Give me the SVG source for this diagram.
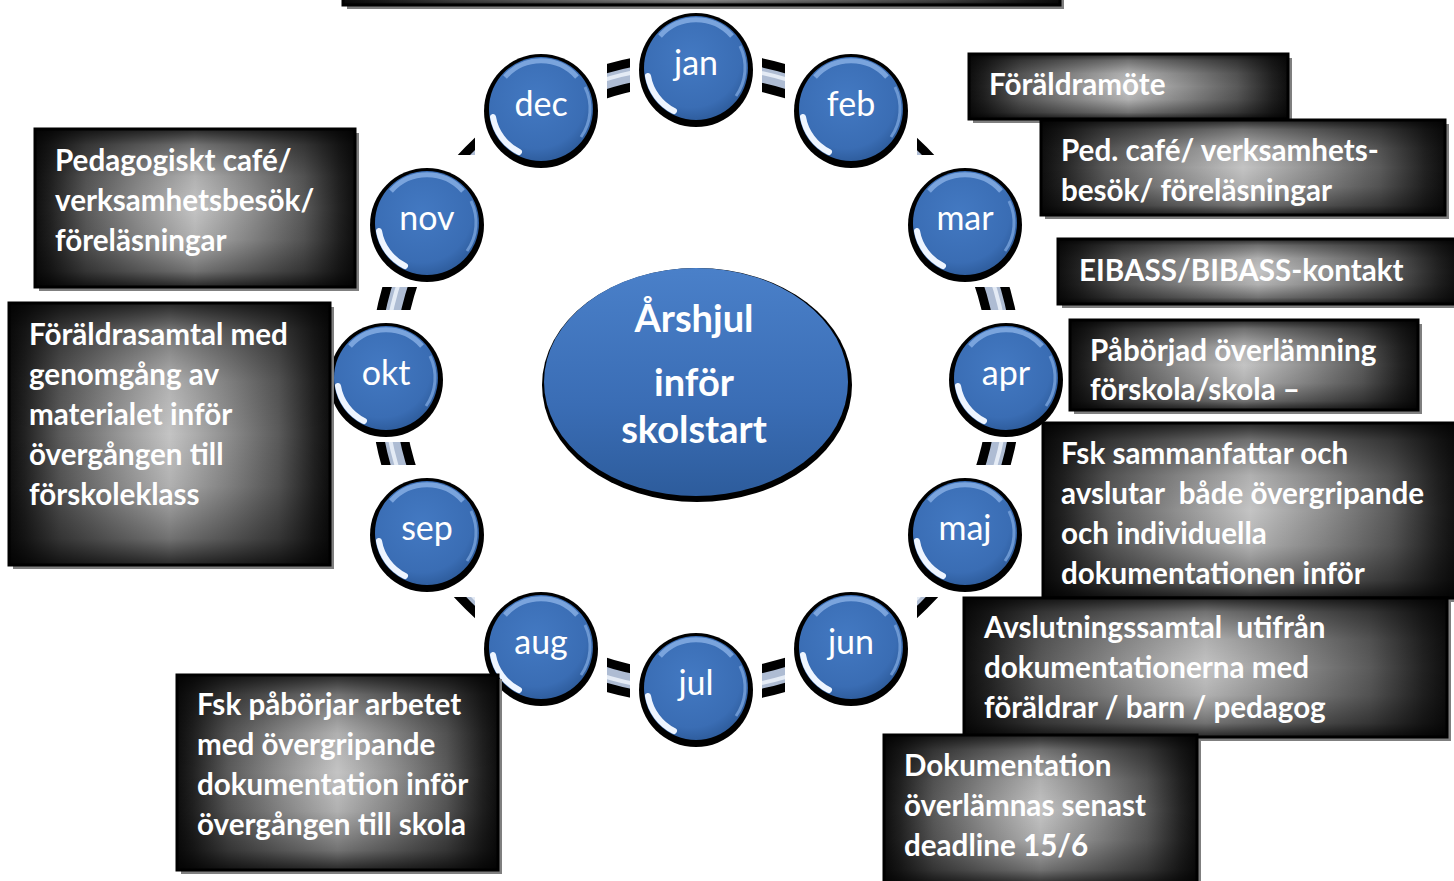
<svg xmlns="http://www.w3.org/2000/svg" xmlns:xlink="http://www.w3.org/1999/xlink" width="1454" height="881" viewBox="0 0 1454 881">
<defs>
  <style>
    .mt{font-family:Lato,"Liberation Sans",sans-serif;font-size:34px;fill:#fff;text-anchor:middle}
    .bt{font-family:Lato,"Liberation Sans",sans-serif;font-size:29.6px;font-weight:bold;fill:#fff}
    .ct{font-family:Lato,"Liberation Sans",sans-serif;font-size:38px;font-weight:bold;fill:#fff;text-anchor:middle}
    .shd{fill:#7f7f7f}
    .bx{fill:url(#hgrad)}
    .ov{fill:url(#vgrad);stroke:#000;stroke-width:3}
    .sq{fill:#fff}
  </style>
  <linearGradient id="hgrad" x1="0" y1="0" x2="1" y2="0">
    <stop offset="0" stop-color="#0e0e0e"/>
    <stop offset="0.05" stop-color="#222"/>
    <stop offset="0.16" stop-color="#5a5a5a"/>
    <stop offset="0.32" stop-color="#8e8e8e"/>
    <stop offset="0.5" stop-color="#c4c4c4"/>
    <stop offset="0.68" stop-color="#8e8e8e"/>
    <stop offset="0.84" stop-color="#5a5a5a"/>
    <stop offset="0.95" stop-color="#222"/>
    <stop offset="1" stop-color="#0e0e0e"/>
  </linearGradient>
  <linearGradient id="vgrad" x1="0" y1="0" x2="0" y2="1">
    <stop offset="0" stop-color="#000" stop-opacity="0.8"/>
    <stop offset="0.1" stop-color="#000" stop-opacity="0.42"/>
    <stop offset="0.3" stop-color="#000" stop-opacity="0.1"/>
    <stop offset="0.5" stop-color="#000" stop-opacity="0"/>
    <stop offset="0.7" stop-color="#000" stop-opacity="0.1"/>
    <stop offset="0.9" stop-color="#000" stop-opacity="0.42"/>
    <stop offset="1" stop-color="#000" stop-opacity="0.8"/>
  </linearGradient>
  <radialGradient id="blueBtn" cx="0.45" cy="0.4" r="0.6">
    <stop offset="0" stop-color="#4379c2"/>
    <stop offset="0.8" stop-color="#3a6db4"/>
    <stop offset="1" stop-color="#2f5e9f"/>
  </radialGradient>
  <linearGradient id="blueEll" x1="0" y1="0" x2="0" y2="1">
    <stop offset="0" stop-color="#4a80c9"/>
    <stop offset="0.6" stop-color="#3a6db5"/>
    <stop offset="1" stop-color="#2d5c9c"/>
  </linearGradient>
  <g id="btn">
    <circle r="57" cy="2" fill="#000"/>
    <circle r="52" fill="url(#blueBtn)"/>
    <path d="M -36 -32 A 48 48 0 0 1 36 -32" fill="none" stroke="#8fb6ea" stroke-width="5" opacity="0.75"/>
    <path d="M 44 -22 A 49 49 0 0 1 40 28" fill="none" stroke="#79a4dc" stroke-width="3" opacity="0.8"/>
    <path d="M -48 8 A 48 48 0 0 0 -22 43" fill="none" stroke="#eef5ff" stroke-width="6" stroke-linecap="round"/>
  </g>
</defs>

<rect width="1454" height="881" fill="#fff"/>

<g id="connectors">
  <circle cx="696" cy="378" r="310" fill="none" stroke="#000" stroke-width="33"/>
  <circle cx="696" cy="378" r="310" fill="none" stroke="#aebcd3" stroke-width="15"/>
  <circle cx="696" cy="378" r="312" fill="none" stroke="#e4ebf5" stroke-width="4"/>
</g>

<g id="center">
  <ellipse cx="697" cy="385" rx="155" ry="117" fill="#000"/>
  <ellipse cx="696" cy="382" rx="152" ry="114" fill="url(#blueEll)"/>
  <text class="ct" x="694" y="332">Årshjul</text>
  <text class="ct" x="694" y="396">inför</text>
  <text class="ct" x="694" y="443">skolstart</text>
</g>

<g id="month-jan" transform="translate(696,68)"><rect class="sq" x="-66" y="-68" width="132" height="132"/><use xlink:href="#btn"/><text class="mt" y="7">jan</text></g>
<g id="month-feb" transform="translate(851,109)"><rect class="sq" x="-66" y="-68" width="132" height="132"/><use xlink:href="#btn"/><text class="mt" y="7">feb</text></g>
<g id="month-mar" transform="translate(965,223)"><rect class="sq" x="-66" y="-68" width="132" height="132"/><use xlink:href="#btn"/><text class="mt" y="7">mar</text></g>
<g id="month-apr" transform="translate(1006,378)"><rect class="sq" x="-66" y="-68" width="132" height="132"/><use xlink:href="#btn"/><text class="mt" y="7">apr</text></g>
<g id="month-maj" transform="translate(965,533)"><rect class="sq" x="-66" y="-68" width="132" height="132"/><use xlink:href="#btn"/><text class="mt" y="7">maj</text></g>
<g id="month-jun" transform="translate(851,647)"><rect class="sq" x="-66" y="-68" width="132" height="132"/><use xlink:href="#btn"/><text class="mt" y="7">jun</text></g>
<g id="month-jul" transform="translate(696,688)"><rect class="sq" x="-66" y="-68" width="132" height="132"/><use xlink:href="#btn"/><text class="mt" y="7">jul</text></g>
<g id="month-aug" transform="translate(541,647)"><rect class="sq" x="-66" y="-68" width="132" height="132"/><use xlink:href="#btn"/><text class="mt" y="7">aug</text></g>
<g id="month-sep" transform="translate(427,533)"><rect class="sq" x="-66" y="-68" width="132" height="132"/><use xlink:href="#btn"/><text class="mt" y="7">sep</text></g>
<g id="month-okt" transform="translate(386,378)"><rect class="sq" x="-66" y="-68" width="132" height="132"/><use xlink:href="#btn"/><text class="mt" y="7">okt</text></g>
<g id="month-nov" transform="translate(427,223)"><rect class="sq" x="-66" y="-68" width="132" height="132"/><use xlink:href="#btn"/><text class="mt" y="7">nov</text></g>
<g id="month-dec" transform="translate(541,109)"><rect class="sq" x="-66" y="-68" width="132" height="132"/><use xlink:href="#btn"/><text class="mt" y="7">dec</text></g>

<g id="box-top">
  <rect class="shd" x="347" y="-20" width="717" height="29"/>
  <rect class="bx" x="343" y="-24" width="717" height="29"/>
  <rect class="ov" x="343" y="-24" width="717" height="29"/>
</g>

<g id="box-foraldramote">
  <rect class="shd" x="973" y="58" width="319" height="65"/>
  <rect class="bx" x="969" y="54" width="319" height="65"/>
  <rect class="ov" x="969" y="54" width="319" height="65"/>
  <text class="bt" x="989" y="95">Föräldramöte</text>
</g>

<g id="box-pedcafe-right">
  <rect class="shd" x="1045" y="124" width="404" height="95"/>
  <rect class="bx" x="1041" y="120" width="404" height="95"/>
  <rect class="ov" x="1041" y="120" width="404" height="95"/>
  <text class="bt" x="1061" y="161">Ped. café/ verksamhets-</text>
  <text class="bt" x="1061" y="201">besök/ föreläsningar</text>
</g>

<g id="box-eibass">
  <rect class="shd" x="1062" y="243" width="400" height="65"/>
  <rect class="bx" x="1058" y="239" width="400" height="65"/>
  <rect class="ov" x="1058" y="239" width="400" height="65"/>
  <text class="bt" x="1079" y="281">EIBASS/BIBASS-kontakt</text>
</g>

<g id="box-paborjad">
  <rect class="shd" x="1074" y="324" width="348" height="90"/>
  <rect class="bx" x="1070" y="320" width="348" height="90"/>
  <rect class="ov" x="1070" y="320" width="348" height="90"/>
  <text class="bt" x="1090" y="361">Påbörjad överlämning</text>
  <text class="bt" x="1090" y="400">förskola/skola –</text>
</g>

<g id="box-fsk-sammanfattar">
  <rect class="shd" x="1047" y="427" width="415" height="175"/>
  <rect class="bx" x="1043" y="423" width="415" height="175"/>
  <rect class="ov" x="1043" y="423" width="415" height="175"/>
  <text class="bt" x="1061" y="464">Fsk sammanfattar och</text>
  <text class="bt" x="1061" y="504" xml:space="preserve">avslutar  både övergripande</text>
  <text class="bt" x="1061" y="544">och individuella</text>
  <text class="bt" x="1061" y="584">dokumentationen inför</text>
</g>

<g id="box-avslutningssamtal">
  <rect class="shd" x="968" y="602" width="483" height="139"/>
  <rect class="bx" x="964" y="598" width="483" height="139"/>
  <rect class="ov" x="964" y="598" width="483" height="139"/>
  <text class="bt" x="984" y="638" xml:space="preserve">Avslutningssamtal  utifrån</text>
  <text class="bt" x="984" y="678">dokumentationerna med</text>
  <text class="bt" x="984" y="718">föräldrar / barn / pedagog</text>
</g>

<g id="box-dokumentation">
  <rect class="shd" x="888" y="739" width="313" height="150"/>
  <rect class="bx" x="884" y="735" width="313" height="150"/>
  <rect class="ov" x="884" y="735" width="313" height="150"/>
  <text class="bt" x="904" y="776">Dokumentation</text>
  <text class="bt" x="904" y="816">överlämnas senast</text>
  <text class="bt" x="904" y="856">deadline 15/6</text>
</g>

<g id="box-pedcafe-left">
  <rect class="shd" x="39" y="133" width="320" height="158"/>
  <rect class="bx" x="35" y="129" width="320" height="158"/>
  <rect class="ov" x="35" y="129" width="320" height="158"/>
  <text class="bt" x="55" y="171">Pedagogiskt café/</text>
  <text class="bt" x="55" y="211">verksamhetsbesök/</text>
  <text class="bt" x="55" y="251">föreläsningar</text>
</g>

<g id="box-foraldrasamtal">
  <rect class="shd" x="13" y="307" width="321" height="262"/>
  <rect class="bx" x="9" y="303" width="321" height="262"/>
  <rect class="ov" x="9" y="303" width="321" height="262"/>
  <text class="bt" x="29" y="345">Föräldrasamtal med</text>
  <text class="bt" x="29" y="385">genomgång av</text>
  <text class="bt" x="29" y="425">materialet inför</text>
  <text class="bt" x="29" y="465">övergången till</text>
  <text class="bt" x="29" y="505">förskoleklass</text>
</g>

<g id="box-fsk-paborjar">
  <rect class="shd" x="181" y="679" width="321" height="195"/>
  <rect class="bx" x="177" y="675" width="321" height="195"/>
  <rect class="ov" x="177" y="675" width="321" height="195"/>
  <text class="bt" x="197" y="715">Fsk påbörjar arbetet</text>
  <text class="bt" x="197" y="755">med övergripande</text>
  <text class="bt" x="197" y="795">dokumentation inför</text>
  <text class="bt" x="197" y="835">övergången till skola</text>
</g>
</svg>
